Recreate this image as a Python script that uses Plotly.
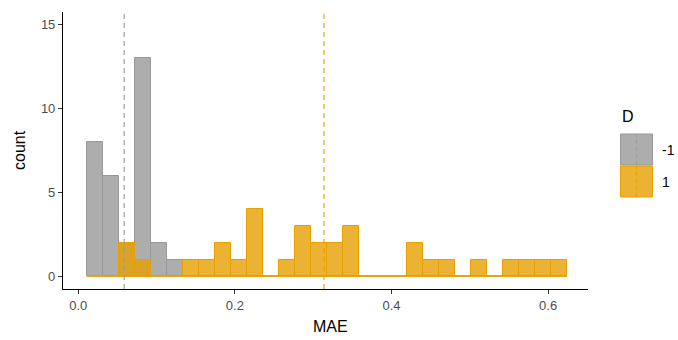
import plotly.graph_objects as go

# Histogram of MAE by group D: 30 equal-width bins, counts per bin
bin_start = 0.0107
bin_width = 0.02044
counts_neg = [8, 6, 2, 13, 2, 1, 0, 0, 0, 0, 0, 0, 0, 0, 0,
              0, 0, 0, 0, 0, 0, 0, 0, 0, 0, 0, 0, 0, 0, 0]
counts_pos = [0, 0, 2, 1, 0, 0, 1, 1, 2, 1, 4, 0, 1, 3, 2,
              2, 3, 0, 0, 0, 2, 1, 1, 0, 1, 0, 1, 1, 1, 1]
group_labels = ["-1", "1"]
group_means = [0.0587, 0.3138]
x_ticks = [0.0, 0.2, 0.4, 0.6]
x_tick_labels = ["0.0", "0.2", "0.4", "0.6"]
y_ticks = [0, 5, 10, 15]

n_bins = len(counts_neg)
centers = [bin_start + bin_width * (i + 0.5) for i in range(n_bins)]
edge_lo = bin_start
edge_hi = bin_start + bin_width * n_bins

line_cols = ["#999999", "#E69F00"]
fill_cols = ["rgba(153,153,153,0.8)", "rgba(230,159,0,0.8)"]
vline_cols = ["rgba(153,153,153,0.75)", "rgba(230,159,0,0.75)"]

FONT = "Liberation Sans, Arial, sans-serif"

fig = go.Figure()
for counts, fc, lc, name in zip([counts_neg, counts_pos], fill_cols, line_cols, group_labels):
    fig.add_trace(go.Bar(
        x=centers, y=counts, width=bin_width, name=name,
        marker=dict(color=fc, line=dict(color=lc, width=1)),
        showlegend=False, hoverinfo="skip",
    ))

# zero-height bin outlines along the baseline
fig.add_shape(type="line", xref="x", yref="y", x0=edge_lo, x1=edge_hi, y0=0, y1=0,
              line=dict(color=line_cols[1], width=1), layer="above")

# group means
for m, vc in zip(group_means, vline_cols):
    fig.add_shape(type="line", xref="x", yref="paper", x0=m, x1=m, y0=0, y1=1,
                  line=dict(color=vc, width=1.5, dash="5px,4px"), layer="above")

# legend drawn in pixel-derived paper coordinates
L, R, T, B = 63, 588, 12, 289
def px_x(p):
    return (p - L) / (R - L)
def px_y(p):
    return (B - p) / (B - T)

keys = [(134, 165), (166, 197)]
for (top, bot), fc, lc, vc, lab in zip(keys, fill_cols, line_cols, vline_cols, group_labels):
    fig.add_shape(type="rect", xref="paper", yref="paper",
                  x0=px_x(620.5), x1=px_x(652.5), y0=px_y(bot), y1=px_y(top),
                  fillcolor=fc, line=dict(color=lc, width=1))
    fig.add_shape(type="line", xref="paper", yref="paper",
                  x0=px_x(636.5), x1=px_x(636.5), y0=px_y(bot), y1=px_y(top),
                  line=dict(color=vc, width=1.2, dash="4px,3px"))
    fig.add_annotation(text=lab, xref="paper", yref="paper", x=px_x(660), y=px_y((top + bot) / 2),
                       xanchor="left", yanchor="middle", showarrow=False,
                       font=dict(family=FONT, size=14, color="#000000"))
fig.add_annotation(text="D", xref="paper", yref="paper", x=px_x(620), y=px_y(116),
                   xanchor="left", yanchor="middle", showarrow=False,
                   font=dict(family=FONT, size=16, color="#000000"))

# axis titles placed as text so the plot area keeps its exact margins
fig.add_annotation(text="MAE", xref="paper", yref="paper", x=px_x(330), y=px_y(326),
                   xanchor="center", yanchor="middle", showarrow=False,
                   font=dict(family=FONT, size=16, color="black"))
fig.add_annotation(text="count", xref="paper", yref="paper", x=px_x(19), y=px_y(150),
                   xanchor="center", yanchor="middle", showarrow=False, textangle=-90,
                   font=dict(family=FONT, size=16, color="black"))

fig.update_layout(
    width=678, height=340,
    margin=dict(l=L, r=678 - R, t=T, b=340 - B, autoexpand=False),
    barmode="overlay", bargap=0,
    plot_bgcolor="white", paper_bgcolor="white",
    font=dict(family=FONT),
    xaxis=dict(range=[-0.0195, 0.651], tickvals=x_ticks, ticktext=x_tick_labels,
               showgrid=False, zeroline=False, showline=True, linecolor="black", linewidth=1.1,
               ticks="outside", ticklen=4, tickcolor="#333333", tickwidth=1.1,
               tickfont=dict(size=13, color="#4D4D4D"), automargin=False),
    yaxis=dict(range=[-0.75, 15.75], tickvals=y_ticks,
               showgrid=False, zeroline=False, showline=True, linecolor="black", linewidth=1.1,
               ticks="outside", ticklen=4, tickcolor="#333333", tickwidth=1.1,
               tickfont=dict(size=13, color="#4D4D4D"), automargin=False),
)

fig.write_html("out.html")
